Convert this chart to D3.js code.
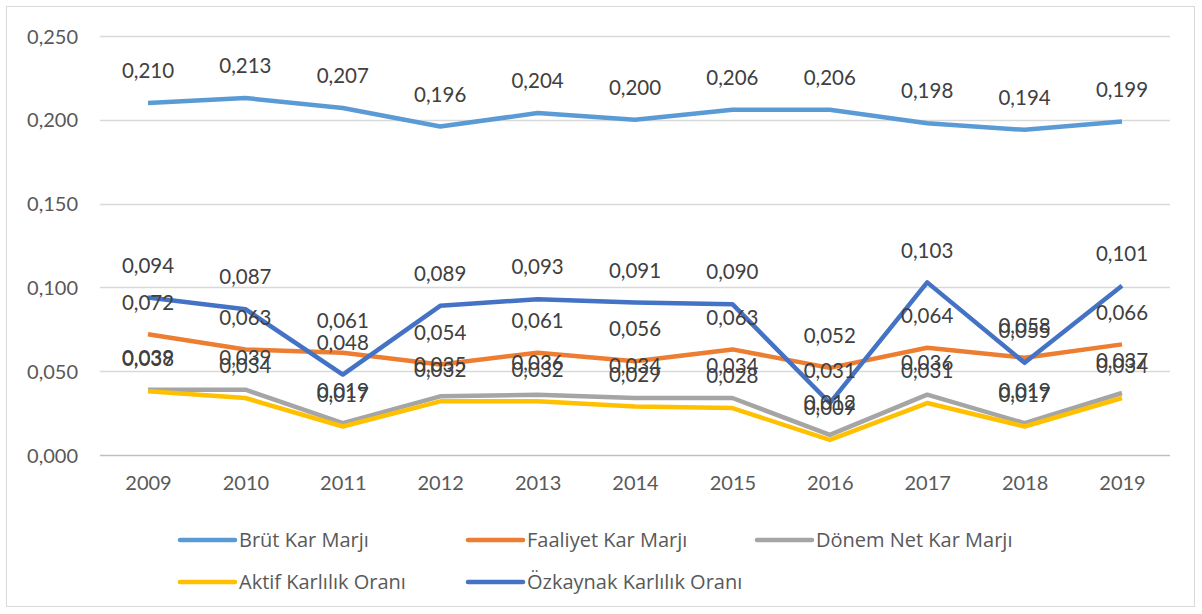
<!DOCTYPE html>
<html>
<head>
<meta charset="utf-8">
<script src="https://cdn.jsdelivr.net/npm/d3@7"></script>
<style>
  body { margin: 0; background: #fff; }
  text { font-family: Lato, "Open Sans", sans-serif; }
</style>
</head>
<body>
<svg id="chart" width="1202" height="614"></svg>
<script>
// years on the x axis
var years = ["2009","2010","2011","2012","2013","2014","2015","2016","2017","2018","2019"];

// series values
var brutKar     = [0.210, 0.213, 0.207, 0.196, 0.204, 0.200, 0.206, 0.206, 0.198, 0.194, 0.199];
var faaliyetKar = [0.072, 0.063, 0.061, 0.054, 0.061, 0.056, 0.063, 0.052, 0.064, 0.058, 0.066];
var donemNetKar = [0.039, 0.039, 0.019, 0.035, 0.036, 0.034, 0.034, 0.012, 0.036, 0.019, 0.037];
var aktifKar    = [0.038, 0.034, 0.017, 0.032, 0.032, 0.029, 0.028, 0.009, 0.031, 0.017, 0.034];
var ozkaynakKar = [0.094, 0.087, 0.048, 0.089, 0.093, 0.091, 0.090, 0.031, 0.103, 0.055, 0.101];

var yTicks = [0, 0.05, 0.10, 0.15, 0.20, 0.25];

var series = [
  {name: "Brüt Kar Marjı", values: brutKar, color: "#5B9BD5"},
  {name: "Faaliyet Kar Marjı", values: faaliyetKar, color: "#ED7D31"},
  {name: "Dönem Net Kar Marjı", values: donemNetKar, color: "#A5A5A5"},
  {name: "Aktif Karlılık Oranı", values: aktifKar, color: "#FFC000"},
  {name: "Özkaynak Karlılık Oranı", values: ozkaynakKar, color: "#4472C4"}
];

var svg = d3.select("#chart");

// outer frame
svg.append("rect")
  .attr("x", 6.5).attr("y", 6.5)
  .attr("width", 1188).attr("height", 600)
  .attr("fill", "#fff").attr("stroke", "#d9d9d9").attr("stroke-width", 1);

var x = d3.scalePoint()
  .domain(years)
  .range([148, 1122]);

var y = d3.scaleLinear()
  .domain([0, 0.25])
  .range([455, 36]);

var fmt = function(v) { return d3.format(".3f")(v).replace(".", ","); };

// gridlines
svg.append("g").selectAll("line")
  .data(yTicks)
  .enter().append("line")
    .attr("x1", 100).attr("x2", 1170)
    .attr("y1", function(d) { return Math.round(y(d)) + 0.5; })
    .attr("y2", function(d) { return Math.round(y(d)) + 0.5; })
    .attr("stroke", function(d) { return d === 0 ? "#bfbfbf" : "#d9d9d9"; })
    .attr("stroke-width", 1.3);

// y axis labels
var yAxis = d3.axisLeft(y).tickValues(yTicks).tickFormat(fmt).tickSize(0).tickPadding(0);
var gy = svg.append("g").attr("transform", "translate(78,0)").call(yAxis);
gy.select(".domain").remove();
gy.selectAll("text")
  .attr("fill", "#595959")
  .style("font-size", "20px")
  .attr("dy", "0.35em");

// x axis labels
var xAxis = d3.axisBottom(x).tickSize(0).tickPadding(0);
var gx = svg.append("g").attr("transform", "translate(0,476)").call(xAxis);
gx.select(".domain").remove();
gx.selectAll("text")
  .attr("fill", "#595959")
  .style("font-size", "20px")
  .attr("dy", "0.71em");

var line = d3.line()
  .x(function(d, i) { return x(years[i]); })
  .y(function(d) { return y(d); });

svg.append("g").selectAll("path")
  .data(series)
  .enter().append("path")
    .attr("d", function(s) { return line(s.values); })
    .attr("fill", "none")
    .attr("stroke", function(s) { return s.color; })
    .attr("stroke-width", 4.5)
    .attr("stroke-linejoin", "round");

// data labels above each point
series.forEach(function(s) {
  svg.append("g").selectAll("text")
    .data(s.values)
    .enter().append("text")
      .attr("x", function(d, i) { return x(years[i]); })
      .attr("y", function(d) { return y(d) - 32; })
      .attr("dy", "0.35em")
      .attr("text-anchor", "middle")
      .attr("fill", "#404040")
      .style("font-size", "20.5px")
      .text(fmt);
});

// legend
var legendPos = [
  {x: 180, y: 540}, {x: 468, y: 540}, {x: 757, y: 540},
  {x: 180, y: 582}, {x: 468, y: 582}
];
var leg = svg.append("g").selectAll("g")
  .data(series)
  .enter().append("g")
    .attr("transform", function(d, i) { return "translate(" + legendPos[i].x + "," + legendPos[i].y + ")"; });
leg.append("line")
  .attr("x1", 0).attr("x2", 55)
  .attr("stroke", function(d) { return d.color; })
  .attr("stroke-width", 4.5)
  .attr("stroke-linecap", "round");
leg.append("text")
  .attr("x", 59)
  .attr("dy", "0.35em")
  .attr("fill", "#595959")
  .style("font-family", "'Open Sans', sans-serif")
  .style("font-size", "20px")
  .text(function(d) { return d.name; });
</script>
</body>
</html>
